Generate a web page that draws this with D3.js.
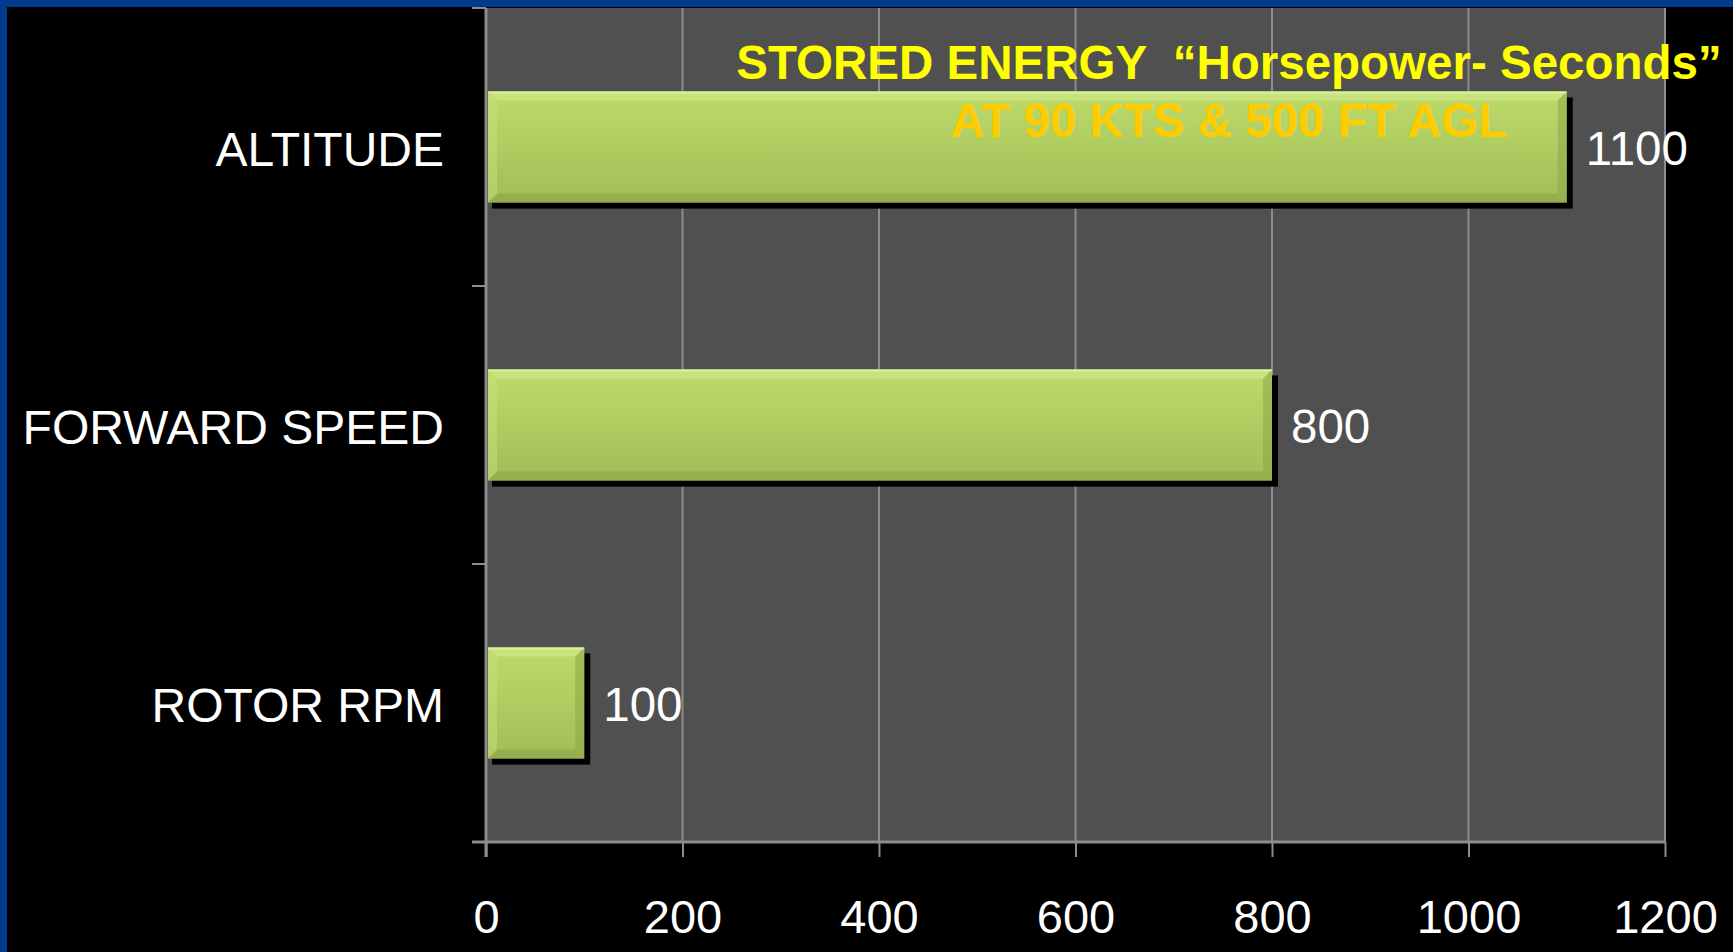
<!DOCTYPE html>
<html>
<head>
<meta charset="utf-8">
<script src="https://cdn.jsdelivr.net/npm/d3@7"></script>
<style>
  html, body { margin: 0; padding: 0; background: #000; }
  svg { display: block; }
  text { font-family: "Liberation Sans", Arial, sans-serif; white-space: pre; }
</style>
</head>
<body>
<script>
// ---- data ----
const categories = ["ALTITUDE", "FORWARD SPEED", "ROTOR RPM"];
const values = [1100, 800, 100];
const tickValues = [0, 200, 400, 600, 800, 1000, 1200];
const titleLine1 = "STORED ENERGY  \u201CHorsepower- Seconds\u201D";
const titleLine2 = "AT 90 KTS & 500 FT AGL";

const W = 1733, H = 952;
const svg = d3.select("body").append("svg").attr("width", W).attr("height", H);

// background + blue frame
svg.append("rect").attr("width", W).attr("height", H).attr("fill", "#003b8e");
svg.append("rect").attr("x", 7).attr("y", 7).attr("width", W - 7).attr("height", H - 7).attr("fill", "#000");

const plot = { left: 486, right: 1665, top: 8, bottom: 842 };

const x = d3.scaleLinear().domain([0, 1200]).range([plot.left, plot.right]);
const y = d3.scaleBand().domain(categories).range([plot.top, plot.bottom])
  .paddingInner(0.6).paddingOuter(0.3);

// plot background
svg.append("rect")
  .attr("x", plot.left).attr("y", plot.top)
  .attr("width", plot.right - plot.left).attr("height", plot.bottom - plot.top)
  .attr("fill", "#505050");

// gridlines
svg.append("g").selectAll("line").data(tickValues.slice(1)).join("line")
  .attr("x1", d => x(d)).attr("x2", d => x(d))
  .attr("y1", plot.top).attr("y2", plot.bottom)
  .attr("stroke", "#8c8c8c").attr("stroke-width", 2);

// bottom axis
const xAxis = d3.axisBottom(x).tickValues(tickValues).tickFormat(d3.format("d"))
  .tickSize(15).tickSizeOuter(0);
const gx = svg.append("g").attr("transform", `translate(0,${plot.bottom})`).call(xAxis);
gx.select(".domain").attr("stroke", "#8c8c8c").attr("stroke-width", 3)
  .attr("d", `M${plot.left - 14},0H${plot.right}`);
gx.selectAll(".tick line").attr("stroke", "#8c8c8c").attr("stroke-width", 2);
gx.selectAll(".tick text").attr("fill", "#fff").attr("font-size", 47)
  .attr("font-family", "'Liberation Sans', Arial, sans-serif").attr("dy", null).attr("y", 91);

// left axis line + category boundary ticks
svg.append("line").attr("x1", plot.left).attr("x2", plot.left)
  .attr("y1", plot.top).attr("y2", plot.bottom + 15)
  .attr("stroke", "#8c8c8c").attr("stroke-width", 3);
const boundaries = categories.map(c => y(c) - y.step() * y.paddingOuter());
boundaries.push(plot.bottom);
svg.append("g").selectAll("line").data(boundaries).join("line")
  .attr("x1", plot.left - 14).attr("x2", plot.left)
  .attr("y1", d => d).attr("y2", d => d)
  .attr("stroke", "#8c8c8c").attr("stroke-width", 2);

// gradient definitions
const defs = svg.append("defs");
const grad = defs.append("linearGradient").attr("id", "barGrad")
  .attr("x1", 0).attr("y1", 0).attr("x2", 0).attr("y2", 1);
grad.append("stop").attr("offset", "0%").attr("stop-color", "#bddb6c");
grad.append("stop").attr("offset", "100%").attr("stop-color", "#a1bd56");

const rows = categories.map((c, i) => ({ cat: c, val: values[i] }));
const bars = svg.append("g");
const bv = 9; // bevel width

rows.forEach(d => {
  const x0 = x(0) + 2, x1 = x(d.val);
  const y0 = y(d.cat), y1 = y(d.cat) + y.bandwidth();
  const g = bars.append("g");
  // shadow
  g.append("rect").attr("x", x0 + 4).attr("y", y0 + 6)
    .attr("width", x1 - x0 + 2).attr("height", y1 - y0)
    .attr("fill", "#000");
  // body
  g.append("rect").attr("x", x0).attr("y", y0)
    .attr("width", x1 - x0).attr("height", y1 - y0)
    .attr("fill", "url(#barGrad)");
  // bevels
  g.append("polygon").attr("points", `${x0},${y0} ${x1},${y0} ${x1 - bv},${y0 + bv} ${x0 + bv},${y0 + bv}`)
    .attr("fill", "#d2eb88").attr("opacity", 0.6);
  g.append("polygon").attr("points", `${x0},${y0} ${x0 + bv},${y0 + bv} ${x0 + bv},${y1 - bv} ${x0},${y1}`)
    .attr("fill", "#c8e47c").attr("opacity", 0.45);
  g.append("polygon").attr("points", `${x1},${y0} ${x1},${y1} ${x1 - bv},${y1 - bv} ${x1 - bv},${y0 + bv}`)
    .attr("fill", "#8ea648").attr("opacity", 0.55);
  g.append("polygon").attr("points", `${x0},${y1} ${x0 + bv},${y1 - bv} ${x1 - bv},${y1 - bv} ${x1},${y1}`)
    .attr("fill", "#8da547").attr("opacity", 0.6);
  g.append("line").attr("x1", x0).attr("x2", x1).attr("y1", y0 + 1).attr("y2", y0 + 1)
    .attr("stroke", "#e4f5a8").attr("stroke-width", 2).attr("opacity", 0.7);
});

// category labels
svg.append("g").selectAll("text").data(categories).join("text")
  .attr("x", 444).attr("y", d => y(d) + y.bandwidth() / 2 + 19)
  .attr("text-anchor", "end").attr("fill", "#fff").attr("font-size", 48)
  .text(d => d);

// value labels
svg.append("g").selectAll("text").data(rows).join("text")
  .attr("x", d => x(d.val) + 19).attr("y", d => y(d.cat) + y.bandwidth() / 2 + 18)
  .attr("fill", "#fff").attr("font-size", 47.5)
  .text(d => d.val);

// titles
svg.append("text").attr("x", 1229).attr("y", 79).attr("text-anchor", "middle")
  .attr("fill", "#ffff00").attr("font-size", 47.5).attr("font-weight", "bold")
  .text(titleLine1);
svg.append("text").attr("x", 1229).attr("y", 137).attr("text-anchor", "middle")
  .attr("fill", "#ffcc00").attr("font-size", 47.5).attr("font-weight", "bold")
  .text(titleLine2);
</script>
</body>
</html>
